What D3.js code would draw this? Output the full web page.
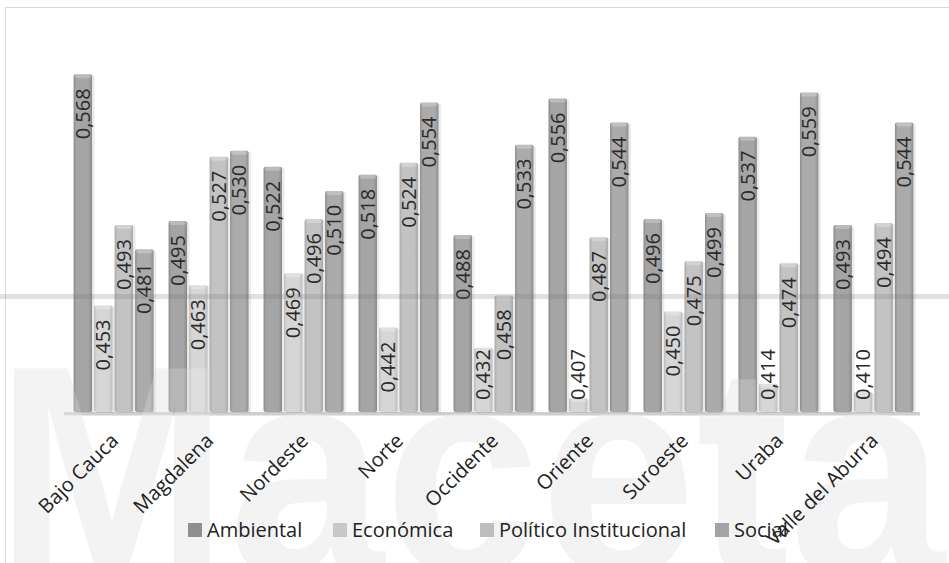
<!DOCTYPE html>
<html>
<head>
<meta charset="utf-8">
<script src="https://cdn.jsdelivr.net/npm/d3@7"></script>
<style>
  html, body { margin: 0; padding: 0; background: #fff; }
  svg { display: block; }
</style>
</head>
<body>
<svg id="chart" width="949" height="563"></svg>
<script>
const categories = ["Bajo Cauca", "Magdalena", "Nordeste", "Norte", "Occidente", "Oriente", "Suroeste", "Uraba", "Valle del Aburra"];
const seriesNames = ["Ambiental", "Económica", "Político Institucional", "Social"];
const ambiental = [0.568, 0.495, 0.522, 0.518, 0.488, 0.556, 0.496, 0.537, 0.493];
const economica = [0.453, 0.463, 0.469, 0.442, 0.432, 0.407, 0.450, 0.414, 0.410];
const politico  = [0.493, 0.527, 0.496, 0.524, 0.458, 0.487, 0.475, 0.474, 0.494];
const social    = [0.481, 0.530, 0.510, 0.554, 0.533, 0.544, 0.499, 0.559, 0.544];
const yDomain = [0.40, 0.60];
const watermark = "Maceta";

const seriesValues = [ambiental, economica, politico, social];
const colors = {
  "Ambiental": {edge: "#8a8a8a", mid: "#a5a5a5", legend: "#8f8f8f"},
  "Económica": {edge: "#bdbdbd", mid: "#d6d6d6", legend: "#c8c8c8"},
  "Político Institucional": {edge: "#a9a9a9", mid: "#c3c3c3", legend: "#bdbdbd"},
  "Social": {edge: "#8e8e8e", mid: "#ababab", legend: "#a3a3a3"}
};

const svg = d3.select("#chart");
const fmt = v => d3.format(".3f")(v).replace(".", ",");

const defs = svg.append("defs");
seriesNames.forEach((s, i) => {
  const g = defs.append("linearGradient").attr("id", "grad" + i)
    .attr("x1", "0%").attr("x2", "100%").attr("y1", "0%").attr("y2", "0%");
  g.append("stop").attr("offset", "0%").attr("stop-color", colors[s].edge);
  g.append("stop").attr("offset", "15%").attr("stop-color", colors[s].mid);
  g.append("stop").attr("offset", "80%").attr("stop-color", colors[s].mid);
  g.append("stop").attr("offset", "100%").attr("stop-color", colors[s].edge);
});

// border
svg.append("rect").attr("x", 5.5).attr("y", 7.5).attr("width", 960).attr("height", 600)
  .attr("fill", "#fff").attr("stroke", "#d9d9d9").attr("stroke-width", 1);

// watermark (behind)
const wm = (fill, op) => svg.append("text").attr("x", -5).attr("y", 575)
  .attr("font-family", "Liberation Sans").attr("font-weight", "bold")
  .attr("font-size", 300).attr("textLength", 950).attr("lengthAdjust", "spacingAndGlyphs")
  .attr("fill", fill).attr("opacity", op).text(watermark);
wm("#f1f1f1", 1);

const x0 = d3.scaleBand().domain(categories).range([66, 921]).paddingInner(0.158).paddingOuter(0.08);
const x1 = d3.scaleBand().domain(seriesNames).range([0, x0.bandwidth()]).paddingInner(0.1);
const y = d3.scaleLinear().domain(yDomain).range([412, 10]);

// floor
svg.append("rect").attr("x", 64).attr("y", y(yDomain[0])).attr("width", 856).attr("height", 3)
  .attr("fill", "#cfcfcf");
svg.append("line").attr("x1", 64).attr("x2", 920).attr("y1", y(yDomain[0]) + 3.5).attr("y2", y(yDomain[0]) + 3.5)
  .attr("stroke", "#e6e6e6").attr("stroke-width", 1);

const groups = svg.append("g").selectAll("g").data(categories).join("g")
  .attr("transform", d => `translate(${x0(d)},0)`);

const barData = (c, ci) => seriesNames.map((s, si) => ({s, si, v: seriesValues[si][ci], c}));

groups.each(function(c, ci) {
  const g = d3.select(this);
  const data = barData(c, ci);
  g.selectAll("rect.sh").data(data).join("rect").attr("class", "sh")
    .attr("x", d => x1(d.s) + 1.5)
    .attr("y", d => y(d.v) + 1)
    .attr("width", x1.bandwidth() + 1)
    .attr("height", d => y(yDomain[0]) - y(d.v))
    .attr("rx", 2)
    .attr("fill", "rgba(0,0,0,0.08)");
  g.selectAll("rect.bar").data(data).join("rect").attr("class", "bar")
    .attr("x", d => x1(d.s))
    .attr("y", d => y(d.v))
    .attr("width", x1.bandwidth())
    .attr("height", d => y(yDomain[0]) - y(d.v))
    .attr("rx", 2)
    .attr("fill", d => `url(#grad${d.si})`);
  g.selectAll("rect.top").data(data).join("rect").attr("class", "top")
    .attr("x", d => x1(d.s) + 1)
    .attr("y", d => y(d.v))
    .attr("width", x1.bandwidth() - 2)
    .attr("height", 4)
    .attr("rx", 2)
    .attr("fill", "rgba(255,255,255,0.25)");
});

// value labels
groups.each(function(c, ci) {
  const g = d3.select(this);
  const data = barData(c, ci);
  g.selectAll("text.lbl").data(data).join("text").attr("class", "lbl")
    .attr("font-family", "Open Sans").attr("font-size", 20).attr("fill", "#2a2a2a")
    .attr("text-anchor", "end")
    .text(d => fmt(d.v))
    .each(function(d) {
      const len = this.getComputedTextLength();
      const top = y(d.v);
      let endY = top + 14;
      if (endY + len > y(yDomain[0]) - 12) endY = y(yDomain[0]) - 12 - len;
      const cx = x1(d.s) + x1.bandwidth() / 2;
      d3.select(this).attr("transform", `translate(${cx + 7},${endY}) rotate(-90)`);
    });
});

// horizontal band overlay
svg.append("rect").attr("x", 0).attr("y", 294).attr("width", 949).attr("height", 5)
  .attr("fill", "rgba(120,120,120,0.22)");

// watermark overlay lightening the bars
wm("#ffffff", 0.2);

// category labels
svg.append("g").selectAll("text").data(categories).join("text")
  .attr("font-family", "Open Sans").attr("font-size", 20).attr("fill", "#222")
  .attr("text-anchor", "end")
  .attr("transform", d => `translate(${x0(d) + x0.bandwidth() / 2 + 6},${442}) rotate(-45)`)
  .text(d => d);

// legend
const legendX = [188, 333, 480, 715];
const lg = svg.append("g").selectAll("g").data(seriesNames).join("g")
  .attr("transform", (d, i) => `translate(${legendX[i]},523)`);
lg.append("rect").attr("width", 14).attr("height", 14).attr("fill", d => colors[d].legend);
lg.append("text").attr("x", 19).attr("y", 7).attr("dy", "0.36em")
  .attr("font-family", "Open Sans").attr("font-size", 20).attr("fill", "#222")
  .text(d => d);
</script>
</body>
</html>
